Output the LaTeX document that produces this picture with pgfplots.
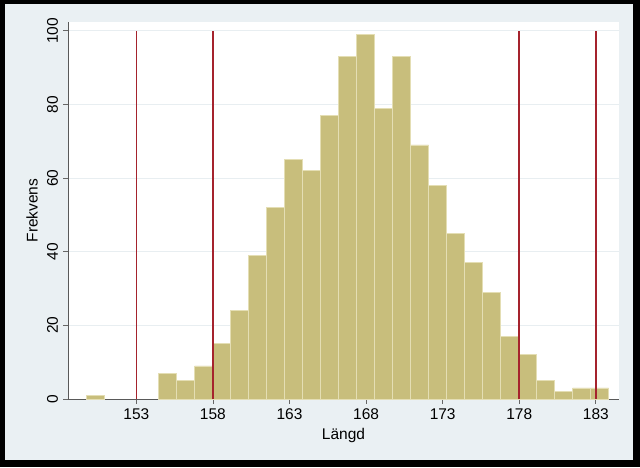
\documentclass[border=0pt]{standalone}
\usepackage{pgfplots}
\pgfplotsset{compat=1.18}
\usepackage{fontspec}
\setmainfont{Liberation Sans}
\definecolor{framec}{RGB}{234,240,243}
\definecolor{khaki}{RGB}{200,190,124}
\definecolor{khakiedge}{RGB}{228,222,180}
\definecolor{vline}{RGB}{165,35,45}
\definecolor{gridc}{RGB}{232,238,241}
\begin{document}
\fontsize{15.5}{18}\selectfont
\begin{tikzpicture}
\fill[black] (0,0) rectangle (640pt,467pt);
\fill[framec] (5pt,7pt) rectangle (633pt,463pt);
\fill[white] (68pt,68pt) rectangle (619pt,445pt);
\begin{axis}[
  at={(68pt,68pt)}, anchor=south west,
  scale only axis, width=551pt, height=377pt,
  xmin=148.54, xmax=184.51, ymin=0, ymax=102.4,
  axis x line*=bottom, axis y line*=left,
  axis line style={-, black!65, line width=0.8pt},
  xtick={153,158,163,168,173,178,183},
  ytick={0,20,40,60,80,100},
  tick align=outside, major tick length=4.5pt,
  tick style={black!60, line width=0.8pt},
  minor tick num=0,
  ymajorgrids, grid style={gridc, line width=0.8pt},
  /pgf/number format/assume math mode=true,
  /pgf/number format/1000 sep={},
  ticklabel style={font=\fontsize{15.5}{18}\selectfont},
  yticklabel style={rotate=90, anchor=south},
  xlabel={Längd}, ylabel={Frekvens},
  label style={font=\fontsize{15.5}{18}\selectfont},
  xlabel style={at={(axis description cs:0.5,-0.0955)}, anchor=center},
  ylabel style={at={(axis description cs:-0.0653,0.5)}, anchor=center, rotate=0},
  clip=false,
]
\addplot[ybar interval, fill=khaki, draw=khakiedge, line width=0.7pt] coordinates {
(149.760,1) (150.935,1)
};
\addplot[ybar interval, fill=khaki, draw=khakiedge, line width=0.7pt] coordinates {
(154.461,7) (155.636,5) (156.811,9) (157.986,15) (159.161,24) (160.337,39)
(161.512,52) (162.687,65) (163.862,62) (165.037,77) (166.212,93) (167.388,99)
(168.563,79) (169.738,93) (170.913,69) (172.088,58) (173.263,45) (174.439,37)
(175.614,29) (176.789,17) (177.964,12) (179.139,5) (180.314,2) (181.490,3)
(182.665,3) (183.840,3)
};
\addplot[vline, line width=1.6pt] coordinates {(153,0) (153,100)};
\addplot[vline, line width=1.6pt] coordinates {(158,0) (158,100)};
\addplot[vline, line width=1.6pt] coordinates {(178,0) (178,100)};
\addplot[vline, line width=1.6pt] coordinates {(183,0) (183,100)};
\end{axis}
\end{tikzpicture}
\end{document}
